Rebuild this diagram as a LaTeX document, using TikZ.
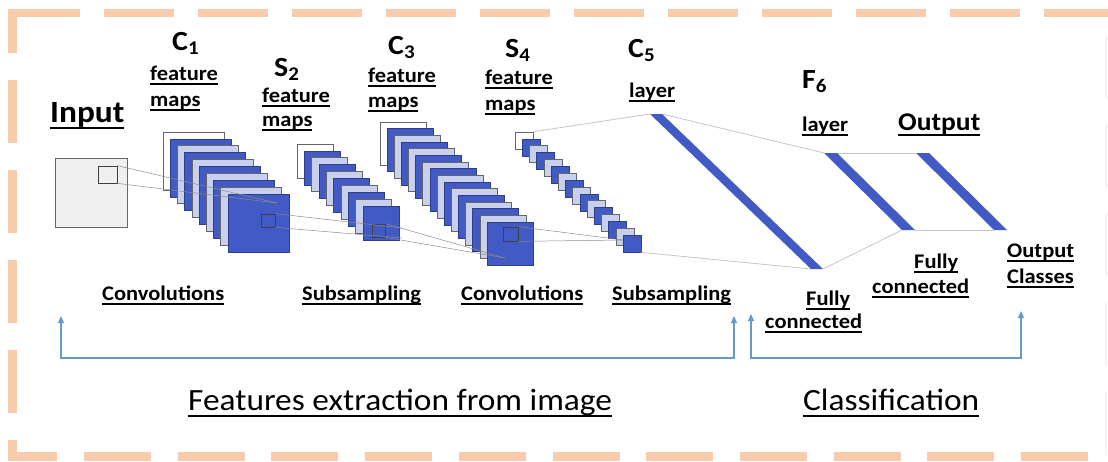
\documentclass[tikz,border=0pt]{standalone}
\usepackage{fontspec}
\setmainfont{Carlito}[FakeStretch=1.08]
\usetikzlibrary{arrows.meta}

\definecolor{fmblue}{RGB}{66,90,196}
\definecolor{fmpale}{RGB}{200,208,238}
\definecolor{framepeach}{RGB}{248,203,173}
\definecolor{flowblue}{RGB}{100,155,205}

\newcommand{\lbline}[1]{\leavevmode\setbox0\hbox{#1}\rlap{\rule[-0.24em]{\wd0}{0.085em}}\box0}

\begin{document}
\begin{tikzpicture}[x=1pt,y=-1pt,
    sq/.style={draw=gray!80!black,line width=0.6pt,inner sep=0pt},
    fmback/.style={sq,fill=white},
    fmdark/.style={sq,fill=fmblue,draw=fmblue!70!black},
    fmlite/.style={sq,fill=fmpale},
    rf/.style={draw=black!75,line width=0.7pt,inner sep=0pt},
    link/.style={draw=gray!90,line width=0.5pt},
    fclink/.style={draw=gray!45,line width=0.8pt},
    lbl/.style={inner sep=0pt,anchor=base west,font=\fontsize{20.8}{24}\bfseries},
    ttl/.style={inner sep=0pt,anchor=base west,font=\fontsize{27.7}{32}\bfseries},
    big/.style={inner sep=0pt,anchor=base west,font=\fontsize{30.9}{36}\selectfont},
    >={Triangle[length=7pt,width=6pt]},
    flow/.style={draw=flowblue,line width=1.2pt,<->}]
    \useasboundingbox (0,0) rectangle (1108,461);

    % dashed frame
    \draw[framepeach,line width=8pt,dash pattern=on 70pt off 24pt] (10,13) -- (1108,13);
    \draw[framepeach,line width=9pt,dash pattern=on 63pt off 27pt,dash phase=19pt] (12.5,9) -- (12.5,461);
    \draw[framepeach,line width=9pt,dash pattern=on 67pt off 26.7pt,dash phase=17.7pt] (8,456) -- (1108,456);
    \draw[framepeach!25,line width=2.5pt,dash pattern=on 64pt off 25pt,dash phase=67pt] (1106,13) -- (1106,456);

    % input image
    \node[sq,fill=gray!12,minimum width=72pt,minimum height=69pt] (input) at (91,192.5) {};

    % feature map stacks
    \foreach \i in {0,...,9}{
        \ifnum\i=0 \def\fm{fmback}\else\ifodd\i\relax\def\fm{fmdark}\else\def\fm{fmlite}\fi\fi
        \node[\fm,minimum width=61pt,minimum height=58pt] (c1-\i) at ({193.5+7.22*\i},{161+6.89*\i}) {};
    }
    \foreach \i in {0,...,9}{
        \ifnum\i=0 \def\fm{fmback}\else\ifodd\i\relax\def\fm{fmdark}\else\def\fm{fmlite}\fi\fi
        \node[\fm,minimum width=36pt,minimum height=34pt] (s2-\i) at ({315+7.33*\i},{161+6.89*\i}) {};
    }
    \foreach \i in {0,...,15}{
        \ifnum\i=0 \def\fm{fmback}\else\ifodd\i\relax\def\fm{fmdark}\else\def\fm{fmlite}\fi\fi
        \node[\fm,minimum width=46pt,minimum height=43pt] (c3-\i) at ({403+7.13*\i},{143.5+6.67*\i}) {};
    }
    \foreach \i in {0,...,15}{
        \ifnum\i=0 \def\fm{fmback}\else\ifodd\i\relax\def\fm{fmdark}\else\def\fm{fmlite}\fi\fi
        \node[\fm,minimum width=18pt,minimum height=17pt] (s4-\i) at ({524+7.2*\i},{140.5+6.87*\i}) {};
    }

    % receptive fields
    \node[rf,minimum width=19pt,minimum height=17pt] (inrf) at (107.5,174.5) {};
    \node[rf,minimum width=14pt,minimum height=13pt] (c1rf) at (268,220.5) {};
    \node[rf,minimum width=13pt,minimum height=13pt] (s2rf) at (378.5,230.5) {};
    \node[rf,minimum width=15pt,minimum height=14pt] (c3rf) at (510.5,234) {};

    \coordinate (p1) at (277,203);
    \coordinate (p2a) at (402,228);
    \coordinate (p2b) at (402,238);
    \coordinate (p3) at (505,258);
    \coordinate (p4) at (623,240);
    \draw[link] (inrf.north east) -- (p1);
    \draw[link] (inrf.south east) -- (p1);
    \draw[link] (c1rf.north east) -- (p2a);
    \draw[link] (c1rf.south east) -- (p2b);
    \draw[link] (s2rf.north east) -- (p3);
    \draw[link] (s2rf.south east) -- (p3);
    \draw[link] (c3rf.north east) -- (p4);
    \draw[link] (c3rf.south east) -- (p4);

    % C5, F6 and output layers
    \coordinate (c5tl) at (650,114);
    \coordinate (c5tr) at (662,114);
    \coordinate (c5br) at (823,269);
    \coordinate (c5bl) at (811,269);
    \coordinate (f6tl) at (824,153);
    \coordinate (f6tr) at (837,153);
    \coordinate (f6br) at (915,230);
    \coordinate (f6bl) at (902,230);
    \coordinate (outtl) at (916,153);
    \coordinate (outtr) at (929,153);
    \coordinate (outbr) at (1007,230);
    \coordinate (outbl) at (994,230);
    \draw[fclink] (s4-0.north east) -- (c5tl);
    \draw[fclink] (s4-15.south east) -- (c5bl);
    \draw[fclink] (c5tr) -- (f6tl);
    \draw[fclink] (c5br) -- (f6bl);
    \draw[fclink] (f6tr) -- (outtl);
    \draw[fclink] (f6br) -- (outbl);
    \fill[fmblue] (c5tl) -- (c5tr) -- (c5br) -- (c5bl) -- cycle;
    \fill[fmblue] (f6tl) -- (f6tr) -- (f6br) -- (f6bl) -- cycle;
    \fill[fmblue] (outtl) -- (outtr) -- (outbr) -- (outbl) -- cycle;

    % headings
    \node[inner sep=0pt,anchor=base west,font=\fontsize{30.9}{36}\bfseries] (inputlbl) at (50,122) {\lbline{Input}};
    \node[ttl] (c1name) at (172,50) {C\textsubscript{1}};
    \node[lbl] (c1feat) at (150,80) {\lbline{feature}};
    \node[lbl] (c1maps) at (150,106) {\lbline{maps}};
    \node[ttl] (s2name) at (274,76) {S\textsubscript{2}};
    \node[lbl] (s2feat) at (262,102) {\lbline{feature}};
    \node[lbl] (s2maps) at (262,126) {\lbline{maps}};
    \node[ttl] (c3name) at (388,54) {C\textsubscript{3}};
    \node[lbl] (c3feat) at (368,82) {\lbline{feature}};
    \node[lbl] (c3maps) at (368,107) {\lbline{maps}};
    \node[ttl] (s4name) at (505,57) {S\textsubscript{4}};
    \node[lbl] (s4feat) at (485,84) {\lbline{feature}};
    \node[lbl] (s4maps) at (485,110) {\lbline{maps}};
    \node[ttl] (c5name) at (628,57) {C\textsubscript{5}};
    \node[lbl] (c5layer) at (629,97) {\lbline{layer}};
    \node[ttl] (f6name) at (802,88) {F\textsubscript{6}};
    \node[lbl] (f6layer) at (802,131) {\lbline{layer}};
    \node[lbl,font=\fontsize{25.5}{30}\bfseries] (outname) at (898,130) {\lbline{Output}};

    % operations
    \node[lbl] (conv1) at (102,300) {\lbline{Convolutions}};
    \node[lbl] (sub1) at (302,300) {\lbline{Subsampling}};
    \node[lbl] (conv2) at (461,300) {\lbline{Convolutions}};
    \node[lbl] (sub2) at (612,300) {\lbline{Subsampling}};
    \node[lbl] (fc1a) at (806,305) {\lbline{Fully}};
    \node[lbl] (fc1b) at (765,328) {\lbline{connected}};
    \node[lbl] (fc2a) at (914,268) {\lbline{Fully}};
    \node[lbl] (fc2b) at (872,293) {\lbline{connected}};
    \node[lbl] (outc1) at (1007,257) {\lbline{Output}};
    \node[lbl] (outc2) at (1007,283) {\lbline{Classes}};

    % stages
    \coordinate (fe-l) at (61,316);
    \coordinate (fe-r) at (734,316);
    \coordinate (cl-l) at (751,314);
    \coordinate (cl-r) at (1021,311);
    \draw[flow] (fe-l) -- ++(0,42) -| (fe-r);
    \draw[flow] (cl-l) -- ++(0,44) -| (cl-r);
    \node[big] (featext) at (188,410) {\lbline{Features extraction from image}};
    \node[big] (classif) at (803,410) {\lbline{Classification}};
\end{tikzpicture}
\end{document}
